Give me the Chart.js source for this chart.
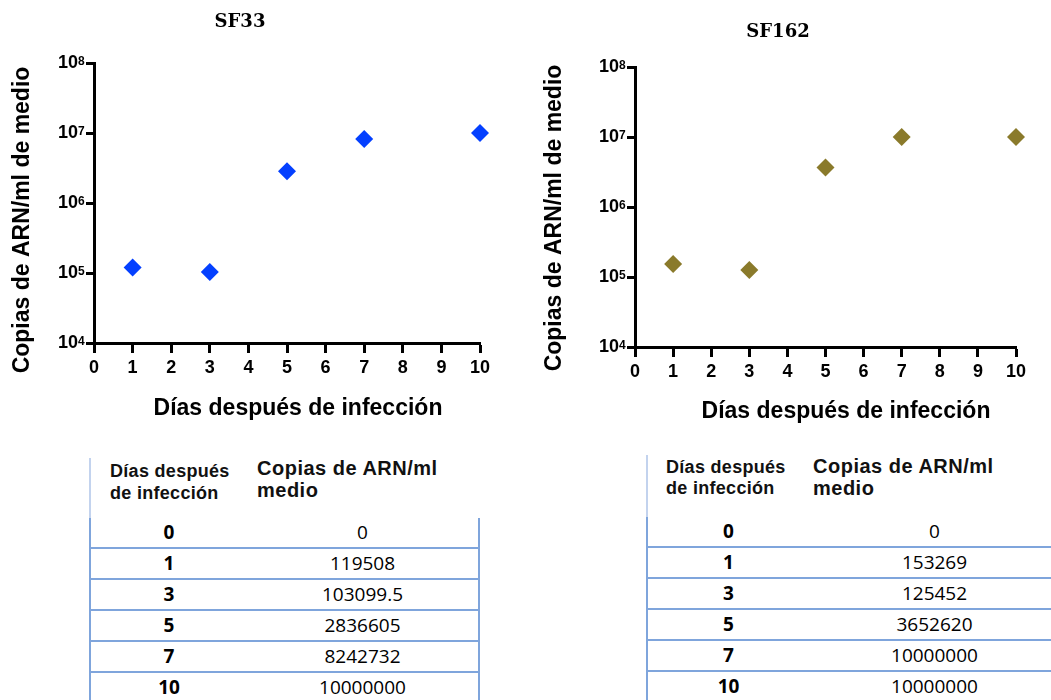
<!DOCTYPE html>
<html>
<head>
<meta charset="utf-8">
<script src="https://cdn.jsdelivr.net/npm/chart.js@4/dist/chart.umd.min.js"></script>
<style>
    body { margin: 0; background: #fff; width: 1051px; height: 700px; overflow: hidden; position: relative; }
    canvas { position: absolute; top: 0; }
    #graficoSF33 { left: 0; }
    #graficoSF162 { left: 540px; }
    .cabecera { position: absolute; font-family: "Liberation Sans", Arial, sans-serif; font-weight: bold; color: #111; white-space: nowrap; }
    .linea-cab { position: absolute; width: 2px; background: #c3d3ee; }
    table { position: absolute; border-collapse: collapse; font-family: "Open Sans", sans-serif; font-size: 19px; color: #000; table-layout: fixed; }
    td { height: 29px; padding: 0; text-align: center; line-height: 29px; }
    tr + tr td { border-top: 2px solid #7fa5dc; }
    td:first-child { font-weight: bold; border-left: 2px solid #7fa5dc; }
    #tablaSF33 td:last-child { border-right: 2px solid #7fa5dc; }
</style>
</head>
<body>
<canvas id="graficoSF33" width="572" height="440"></canvas>
<canvas id="graficoSF162" width="634" height="440"></canvas>

<div class="linea-cab" style="left:89px; top:458px; height:61px;"></div>
<div class="cabecera" style="left:110px; top:460px; font-size:18px; line-height:22px; letter-spacing:0.3px;">Días después<br>de infección</div>
<div class="cabecera" style="left:257px; top:457px; font-size:20px; line-height:22px; letter-spacing:0.5px;">Copias de ARN/ml<br>medio</div>
<table id="tablaSF33" style="left:89px; top:518px; width:391px;">
    <colgroup><col style="width:157px"><col></colgroup>
    <tbody></tbody>
</table>

<div class="linea-cab" style="left:646px; top:455px; height:63px;"></div>
<div class="cabecera" style="left:666px; top:457px; font-size:18px; line-height:21px; letter-spacing:0.3px;">Días después<br>de infección</div>
<div class="cabecera" style="left:813px; top:455px; font-size:20px; line-height:22px; letter-spacing:0.5px;">Copias de ARN/ml<br>medio</div>
<table id="tablaSF162" style="left:646px; top:517px; width:414px;">
    <colgroup><col style="width:162px"><col></colgroup>
    <tbody></tbody>
</table>

<script>
const dias = [0, 1, 3, 5, 7, 10];
const copiasSF33 = [0, 119508, 103099.5, 2836605, 8242732, 10000000];
const copiasSF162 = [0, 153269, 125452, 3652620, 10000000, 10000000];
const ticksX = [0, 1, 2, 3, 4, 5, 6, 7, 8, 9, 10];
const exponentesY = [4, 5, 6, 7, 8];

const fuente = '"Liberation Sans", Arial, sans-serif';

// superindices de las etiquetas 10^n y titulos de ejes
const pluginEjes = {
    id: 'pluginEjes',
    afterDraw(chart, args, opts) {
        const ctx = chart.ctx;
        const escalaY = chart.scales.y;
        ctx.save();
        ctx.fillStyle = '#000';
        ctx.font = 'bold 12px ' + fuente;
        ctx.textAlign = 'left';
        ctx.textBaseline = 'alphabetic';
        escalaY.ticks.forEach(t => {
            const py = escalaY.getPixelForValue(t.value);
            ctx.fillText(String(Math.round(Math.log10(t.value))), escalaY.right - 16, py + 2);
        });

        ctx.font = 'bold 23px ' + fuente;
        ctx.textAlign = 'center';
        ctx.textBaseline = 'middle';
        ctx.fillText(opts.tituloX, opts.xX, opts.yX);

        ctx.translate(opts.xY, opts.yY);
        ctx.rotate(-Math.PI / 2);
        ctx.fillText(opts.tituloY, 0, 0);
        ctx.restore();
    }
};

const crearGrafico = (id, titulo, valores, color, cfg) => {
    const puntos = dias.map((d, i) => ({ x: d, y: valores[i] })).filter(p => p.y > 0);

    return new Chart(document.getElementById(id), {
        type: 'scatter',
        data: {
            datasets: [{
                data: puntos,
                backgroundColor: color,
                borderWidth: 0,
                pointStyle: 'rectRot',
                pointRadius: 9,
                clip: false
            }]
        },
        options: {
            responsive: false,
            animation: false,
            layout: { padding: { left: 0, right: cfg.derecha, top: 0, bottom: 0 } },
            plugins: {
                legend: { display: false },
                tooltip: { enabled: false },
                title: {
                    display: true,
                    text: titulo,
                    color: '#000',
                    font: { family: '"DejaVu Serif", serif', size: 18, weight: 'bold' },
                    padding: { top: cfg.tituloArriba, bottom: cfg.tituloAbajo }
                },
                pluginEjes: {
                    tituloX: 'Días después de infección',
                    tituloY: 'Copias de ARN/ml de medio',
                    xX: cfg.xX, yX: cfg.yX, xY: cfg.xY, yY: cfg.yY
                }
            },
            scales: {
                x: {
                    type: 'linear',
                    min: 0,
                    max: 10,
                    afterBuildTicks: s => { s.ticks = ticksX.map(v => ({ value: v })) },
                    afterFit: s => { s.height = cfg.altoX },
                    border: { display: true, color: '#000', width: 3 },
                    grid: { drawOnChartArea: false, color: '#000', tickLength: 10, tickWidth: 3 },
                    ticks: {
                        color: '#000',
                        padding: 4,
                        autoSkip: false,
                        maxRotation: 0,
                        font: { family: fuente, size: 18, weight: 'bold' }
                    }
                },
                y: {
                    type: 'logarithmic',
                    min: 1e4,
                    max: 1e8,
                    afterBuildTicks: s => { s.ticks = exponentesY.map(e => ({ value: Math.pow(10, e) })) },
                    afterFit: s => { s.width = cfg.anchoY },
                    border: { display: true, color: '#000', width: 3 },
                    grid: { drawOnChartArea: false, color: '#000', tickLength: 8, tickWidth: 3 },
                    ticks: {
                        color: '#000',
                        padding: 8,
                        autoSkip: false,
                        callback: () => '10',
                        font: { family: fuente, size: 18, weight: 'bold' }
                    }
                }
            }
        },
        plugins: [pluginEjes]
    });
};

crearGrafico('graficoSF33', 'SF33', copiasSF33, '#0440ff', {
    derecha: 92, tituloArriba: 12, tituloAbajo: 29.4, altoX: 97, anchoY: 94,
    xX: 298, yX: 409, xY: 23, yY: 220
});
crearGrafico('graficoSF162', 'SF162', copiasSF162, '#8a7a2b', {
    derecha: 158, tituloArriba: 22, tituloAbajo: 23.4, altoX: 93, anchoY: 95,
    xX: 306, yX: 412, xY: 15, yY: 218
});

// tablas con los mismos datos
const llenarTabla = (id, valores) => {
    const cuerpo = document.querySelector('#' + id + ' tbody');
    dias.forEach((d, i) => {
        const fila = document.createElement('tr');
        const c1 = document.createElement('td');
        const c2 = document.createElement('td');
        c1.textContent = d;
        c2.textContent = valores[i];
        fila.appendChild(c1);
        fila.appendChild(c2);
        cuerpo.appendChild(fila);
    });
};

llenarTabla('tablaSF33', copiasSF33);
llenarTabla('tablaSF162', copiasSF162);
</script>
</body>
</html>
